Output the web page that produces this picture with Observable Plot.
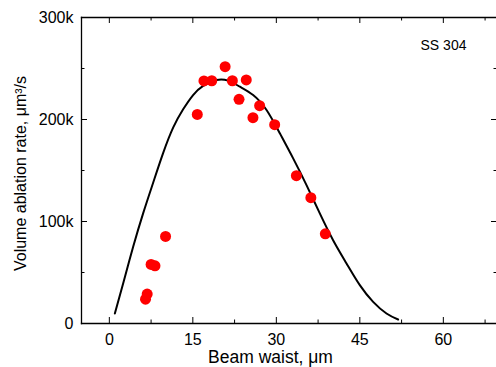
<!DOCTYPE html>
<html>
<head>
<meta charset="utf-8">
<script src="https://cdn.jsdelivr.net/npm/d3@7"></script>
<script src="https://cdn.jsdelivr.net/npm/@observablehq/plot@0.6"></script>
<style>
  html, body { margin: 0; padding: 0; background: #fff; }
  svg { display: block; }
</style>
</head>
<body>
<div id="chart"></div>
<script>
// Measured data (beam waist in µm, volume ablation rate in µm³/s)
const waist = [6.5, 6.8, 7.5, 8.2, 10.1, 15.8, 17.0, 18.4, 20.8, 22.1, 23.3, 24.6, 25.8, 27.0, 29.7, 33.6, 36.2, 38.8];
const rateK = [23.8, 28.8, 57.9, 56.5, 85.4, 205, 237.8, 238, 251.8, 238, 219.8, 238.8, 201.8, 213.5, 194.9, 144.9, 123.3, 87.9];

// Fitted curve
const fitX = [0.99, 2.48, 4.28, 6.07, 7.87, 9.66, 11.46, 13.26, 15.05, 16.85, 19.26, 21.34, 23.44, 25.83, 28.24, 30.63, 33.02, 35.42, 37.81, 40.20, 42.61, 45.0, 47.39, 49.79, 51.88];
const fitYK = [9.8, 39.3, 75.2, 108.0, 138.0, 167.0, 192.0, 210.0, 224.0, 233.0, 238.8, 238.1, 232.2, 224.0, 209.3, 186.5, 161.9, 135.7, 107.9, 81.7, 58.9, 37.6, 21.2, 9.8, 3.9];

// Axes
const xDomain = [-5, 69.73];
const yDomain = [0, 300000];
const xMajor = [0, 15, 30, 45, 60];
const xMinor = [7.5, 22.5, 37.5, 52.5, 67.5];
const yMajor = [0, 100000, 200000, 300000];
const yMinor = [50000, 150000, 250000];

const xLabel = "Beam waist, μm";
const yLabel = "Volume ablation rate, μm³/s";
const annotation = "SS 304";

const points = waist.map((w, i) => ({x: w, y: rateK[i] * 1000}));
const fit = fitX.map((w, i) => ({x: w, y: fitYK[i] * 1000}));

const majorLen = 6, minorLen = 3.5;
const font = "'Liberation Sans', Arial, Helvetica, sans-serif";

const plot = Plot.plot({
  width: 496,
  height: 367,
  marginLeft: 81,
  marginRight: -1,
  marginTop: 17,
  marginBottom: 44,
  style: {fontFamily: font, background: "#fff", color: "#000"},
  x: {domain: xDomain},
  y: {domain: yDomain},
  marks: [
    Plot.axisX({ticks: xMajor, tickSize: 0, tickPadding: 10, fontSize: 16, label: null, tickFormat: d => String(d)}),
    Plot.axisY({ticks: yMajor, tickSize: 0, tickPadding: 8, fontSize: 16, label: null,
      tickFormat: d => d === 0 ? "0" : (d / 1000) + "k"}),
    // inward ticks: bottom & top
    Plot.ruleX(xMajor, {y1: yDomain[0], y2: yDomain[0], insetTop: -majorLen, stroke: "#000"}),
    Plot.ruleX(xMinor, {y1: yDomain[0], y2: yDomain[0], insetTop: -minorLen, stroke: "#000"}),
    Plot.ruleX(xMajor, {y1: yDomain[1], y2: yDomain[1], insetBottom: -majorLen, stroke: "#000"}),
    Plot.ruleX(xMinor, {y1: yDomain[1], y2: yDomain[1], insetBottom: -minorLen, stroke: "#000"}),
    // inward ticks: left & right
    Plot.ruleY(yMajor, {x1: xDomain[0], x2: xDomain[0], insetRight: -majorLen, stroke: "#000"}),
    Plot.ruleY(yMinor, {x1: xDomain[0], x2: xDomain[0], insetRight: -minorLen, stroke: "#000"}),
    Plot.ruleY(yMajor, {x1: xDomain[1], x2: xDomain[1], insetLeft: -majorLen, stroke: "#000"}),
    Plot.ruleY(yMinor, {x1: xDomain[1], x2: xDomain[1], insetLeft: -minorLen, stroke: "#000"}),
    Plot.frame({anchor: "top", stroke: "#000", strokeWidth: 1.3}),
    Plot.frame({anchor: "bottom", stroke: "#000", strokeWidth: 1.3}),
    Plot.frame({anchor: "left", stroke: "#000", strokeWidth: 1.3}),
    Plot.line(fit, {x: "x", y: "y", stroke: "#000", strokeWidth: 2, curve: "natural"}),
    Plot.dot(points, {x: "x", y: "y", r: 5.5, fill: "#ff0000", stroke: "none"}),
    Plot.text([annotation], {frameAnchor: "top-right", dx: -54, dy: 28, fontSize: 14, textAnchor: "middle", lineAnchor: "middle", fill: "#000"}),
    Plot.text([xLabel], {frameAnchor: "bottom", dx: -19, dy: 34, fontSize: 17.5, textAnchor: "middle", lineAnchor: "middle", fill: "#000"}),
    Plot.text([yLabel], {frameAnchor: "left", rotate: -90, dx: -61, dy: 3, fontSize: 16, textAnchor: "middle", lineAnchor: "middle", fill: "#000"})
  ]
});
document.getElementById("chart").appendChild(plot);
</script>
</body>
</html>
